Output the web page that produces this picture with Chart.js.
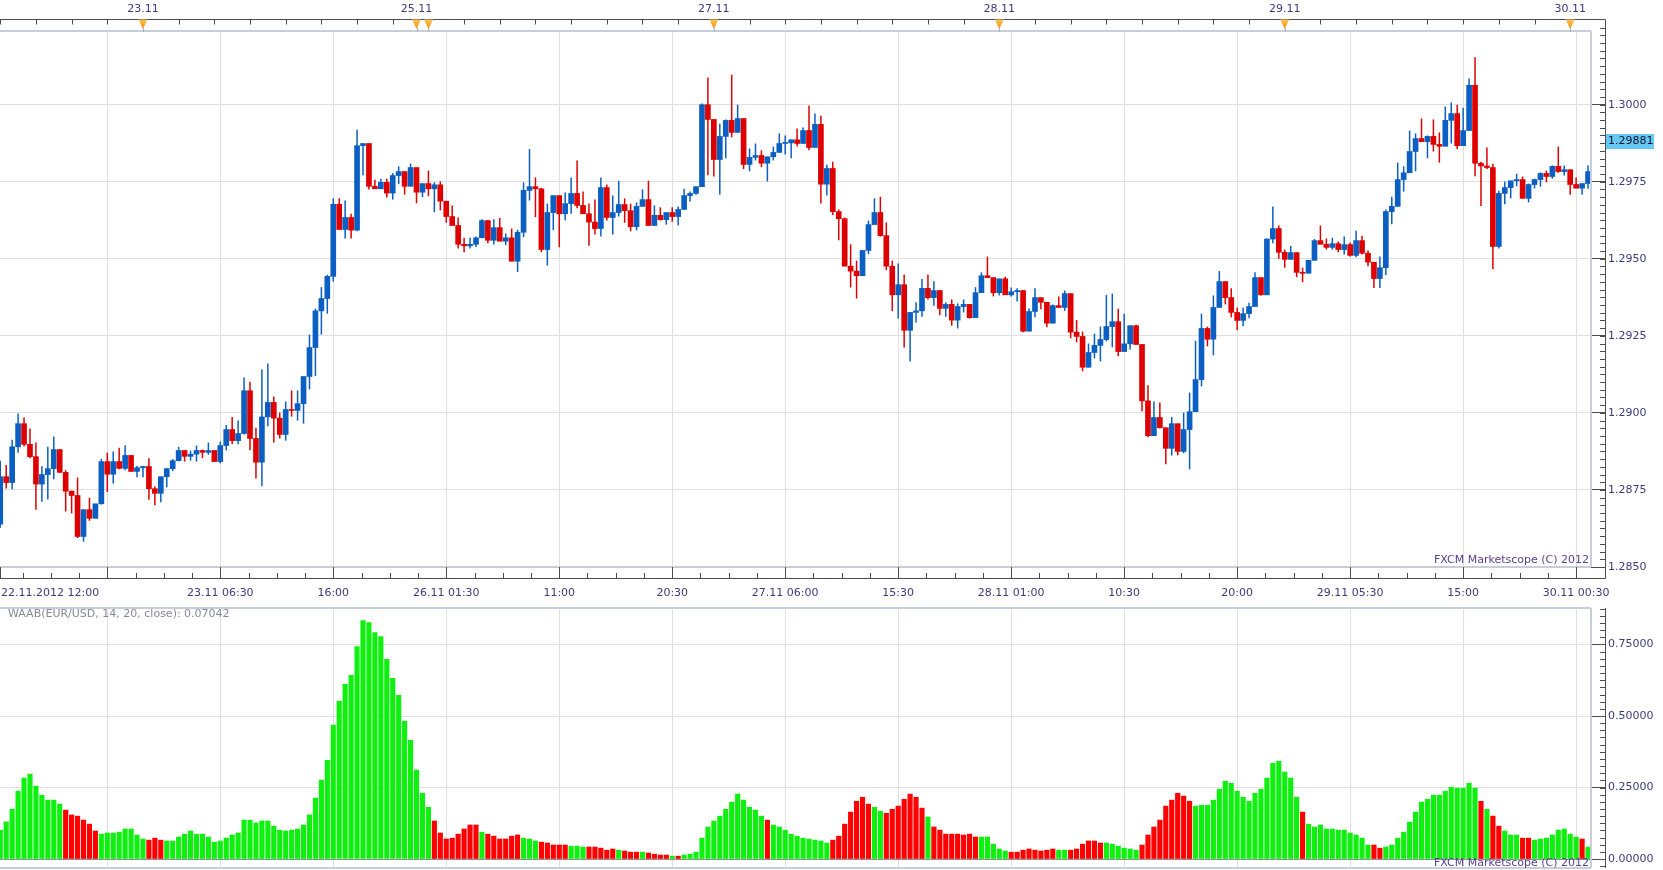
<!DOCTYPE html>
<html>
<head>
<meta charset="utf-8">
<title>EUR/USD 30m - WAAB</title>
<script src="https://cdn.jsdelivr.net/npm/chart.js@4.4.1/dist/chart.umd.min.js"></script>
<style>
  html, body { margin:0; padding:0; background:#fff; overflow:hidden; }
  #wrap { position:relative; width:1663px; height:870px; }
  #price { position:absolute; left:0; top:0; }
  #waab  { position:absolute; left:0; top:600px; }
</style>
</head>
<body>
<div id="wrap">
  <canvas id="price" width="1663" height="600"></canvas>
  <canvas id="waab" width="1663" height="270"></canvas>
</div>
<script>
// ── DATA ──────────────────────────────────────────────────
// EUR/USD 30 min candles, 22.11.2012 12:00 -> 30.11.2012 01:30 (open = previous close)
const firstOpen = 1.28639;
const closePrice = [
  1.28793,1.28774,1.28890,1.28965,1.28898,1.28858,1.28769,1.28800,1.28819,1.28881,1.28807,1.28746,
  1.28732,1.28599,1.28686,1.28658,1.28705,1.28842,1.28801,1.28842,1.28820,1.28862,1.28810,1.28822,
  1.28826,1.28754,1.28739,1.28793,1.28819,1.28845,1.28878,1.28859,1.28866,1.28878,1.28872,1.28878,
  1.28842,1.28894,1.28946,1.28910,1.28933,1.29072,1.28917,1.28840,1.28987,1.29034,1.28983,1.28930,
  1.29011,1.29008,1.29030,1.29118,1.29212,1.29331,1.29371,1.29443,1.29677,1.29595,1.29634,1.29593,
  1.29867,1.29874,1.29735,1.29727,1.29748,1.29713,1.29770,1.29783,1.29735,1.29796,1.29716,1.29744,
  1.29727,1.29740,1.29687,1.29637,1.29608,1.29547,1.29542,1.29547,1.29568,1.29624,1.29560,1.29601,
  1.29557,1.29568,1.29492,1.29586,1.29722,1.29734,1.29727,1.29530,1.29650,1.29705,1.29646,1.29679,
  1.29712,1.29673,1.29646,1.29619,1.29598,1.29731,1.29634,1.29650,1.29676,1.29656,1.29604,1.29670,
  1.29692,1.29608,1.29641,1.29627,1.29650,1.29637,1.29660,1.29705,1.29712,1.29734,1.30000,1.29952,
  1.29822,1.29897,1.29949,1.29910,1.29955,1.29806,1.29829,1.29835,1.29810,1.29831,1.29845,1.29874,
  1.29876,1.29886,1.29874,1.29916,1.29861,1.29936,1.29742,1.29793,1.29653,1.29630,1.29476,1.29460,
  1.29445,1.29527,1.29611,1.29650,1.29575,1.29476,1.29383,1.29416,1.29268,1.29326,1.29331,1.29404,
  1.29374,1.29397,1.29339,1.29352,1.29301,1.29345,1.29352,1.29309,1.29390,1.29445,1.29439,1.29390,
  1.29435,1.29383,1.29393,1.29397,1.29265,1.29329,1.29374,1.29359,1.29291,1.29348,1.29342,1.29387,
  1.29262,1.29248,1.29148,1.29196,1.29219,1.29238,1.29280,1.29296,1.29199,1.29224,1.29283,1.29222,
  1.29039,1.28926,1.28985,1.28952,1.28885,1.28965,1.28875,1.28946,1.29004,1.29108,1.29274,1.29239,
  1.29342,1.29426,1.29374,1.29326,1.29300,1.29322,1.29345,1.29439,1.29383,1.29564,1.29598,1.29521,
  1.29498,1.29520,1.29456,1.29453,1.29495,1.29559,1.29547,1.29537,1.29549,1.29530,1.29546,1.29511,
  1.29559,1.29518,1.29489,1.29436,1.29471,1.29653,1.29670,1.29757,1.29779,1.29848,1.29890,1.29880,
  1.29897,1.29871,1.29865,1.29949,1.29971,1.29867,1.29916,1.30063,1.29810,1.29801,1.29796,1.29540,
  1.29712,1.29731,1.29753,1.29757,1.29696,1.29741,1.29757,1.29777,1.29767,1.29800,1.29783,1.29789,
  1.29741,1.29729,1.29744,1.29783
];
const highPrice = [
  1.28845,1.28831,1.28913,1.28998,1.28985,1.28949,1.28904,1.28827,1.28890,1.28923,1.28881,1.28814,
  1.28748,1.28790,1.28686,1.28725,1.28705,1.28851,1.28871,1.28875,1.28887,1.28895,1.28862,1.28828,
  1.28828,1.28853,1.28761,1.28793,1.28821,1.28850,1.28890,1.28878,1.28878,1.28894,1.28881,1.28904,
  1.28878,1.28907,1.28961,1.28987,1.28975,1.29115,1.29101,1.28952,1.29141,1.29160,1.29053,1.29001,
  1.29037,1.29073,1.29073,1.29118,1.29254,1.29338,1.29408,1.29448,1.29696,1.29696,1.29689,1.29646,
  1.29919,1.29874,1.29874,1.29756,1.29760,1.29760,1.29778,1.29800,1.29783,1.29809,1.29796,1.29744,
  1.29786,1.29748,1.29751,1.29687,1.29673,1.29634,1.29568,1.29568,1.29572,1.29628,1.29624,1.29628,
  1.29632,1.29582,1.29598,1.29594,1.29748,1.29856,1.29764,1.29730,1.29679,1.29705,1.29705,1.29715,
  1.29764,1.29819,1.29718,1.29679,1.29692,1.29764,1.29741,1.29705,1.29753,1.29696,1.29679,1.29683,
  1.29725,1.29753,1.29673,1.29667,1.29650,1.29667,1.29670,1.29727,1.29718,1.29734,1.30004,1.30088,
  1.29952,1.29938,1.29952,1.30097,1.30000,1.29955,1.29858,1.29874,1.29852,1.29831,1.29864,1.29907,
  1.29900,1.29886,1.29923,1.29926,1.29997,1.29971,1.29964,1.29805,1.29815,1.29660,1.29634,1.29547,
  1.29494,1.29527,1.29624,1.29696,1.29701,1.29618,1.29494,1.29485,1.29449,1.29326,1.29359,1.29434,
  1.29449,1.29427,1.29397,1.29359,1.29368,1.29355,1.29368,1.29352,1.29408,1.29456,1.29507,1.29439,
  1.29435,1.29442,1.29407,1.29404,1.29397,1.29339,1.29404,1.29374,1.29359,1.29352,1.29378,1.29397,
  1.29387,1.29301,1.29264,1.29225,1.29257,1.29280,1.29383,1.29387,1.29338,1.29322,1.29283,1.29286,
  1.29222,1.29090,1.29037,1.29034,1.28952,1.28987,1.28965,1.29001,1.29066,1.29234,1.29322,1.29280,
  1.29381,1.29460,1.29426,1.29404,1.29342,1.29342,1.29357,1.29456,1.29439,1.29566,1.29670,1.29608,
  1.29530,1.29542,1.29520,1.29471,1.29495,1.29564,1.29608,1.29566,1.29568,1.29556,1.29572,1.29553,
  1.29591,1.29575,1.29527,1.29489,1.29507,1.29660,1.29701,1.29812,1.29800,1.29916,1.29907,1.29955,
  1.29900,1.29952,1.29910,1.29994,1.30007,1.30000,1.29990,1.30085,1.30154,1.29815,1.29861,1.29808,
  1.29721,1.29751,1.29753,1.29776,1.29767,1.29744,1.29760,1.29780,1.29786,1.29803,1.29864,1.29803,
  1.29789,1.29764,1.29744,1.29803
];
const lowPrice = [
  1.28627,1.28755,1.28752,1.28871,1.28891,1.28853,1.28686,1.28712,1.28720,1.28785,1.28806,1.28680,
  1.28674,1.28594,1.28582,1.28650,1.28658,1.28703,1.28743,1.28771,1.28817,1.28814,1.28810,1.28791,
  1.28791,1.28718,1.28700,1.28710,1.28759,1.28811,1.28843,1.28842,1.28845,1.28842,1.28853,1.28864,
  1.28842,1.28836,1.28879,1.28898,1.28898,1.28930,1.28879,1.28787,1.28762,1.28957,1.28904,1.28917,
  1.28910,1.28988,1.28975,1.28965,1.29076,1.29120,1.29254,1.29322,1.29426,1.29595,1.29566,1.29566,
  1.29589,1.29771,1.29725,1.29727,1.29727,1.29699,1.29692,1.29742,1.29708,1.29735,1.29680,1.29700,
  1.29703,1.29651,1.29657,1.29617,1.29608,1.29533,1.29521,1.29533,1.29538,1.29568,1.29550,1.29546,
  1.29557,1.29544,1.29492,1.29457,1.29570,1.29689,1.29635,1.29521,1.29478,1.29593,1.29537,1.29625,
  1.29646,1.29664,1.29646,1.29542,1.29579,1.29572,1.29624,1.29579,1.29637,1.29617,1.29589,1.29592,
  1.29670,1.29608,1.29608,1.29624,1.29611,1.29620,1.29608,1.29660,1.29686,1.29708,1.29734,1.29771,
  1.29767,1.29708,1.29826,1.29894,1.29910,1.29791,1.29784,1.29819,1.29797,1.29751,1.29819,1.29845,
  1.29838,1.29826,1.29864,1.29874,1.29852,1.29861,1.29679,1.29705,1.29642,1.29560,1.29476,1.29407,
  1.29371,1.29445,1.29515,1.29611,1.29572,1.29463,1.29330,1.29306,1.29212,1.29167,1.29293,1.29312,
  1.29368,1.29348,1.29317,1.29312,1.29283,1.29274,1.29326,1.29306,1.29309,1.29390,1.29439,1.29378,
  1.29381,1.29383,1.29378,1.29361,1.29262,1.29265,1.29310,1.29336,1.29278,1.29291,1.29342,1.29331,
  1.29242,1.29229,1.29135,1.29148,1.29177,1.29167,1.29232,1.29213,1.29184,1.29199,1.29206,1.29222,
  1.29005,1.28921,1.28926,1.28949,1.28833,1.28862,1.28862,1.28869,1.28817,1.29004,1.29086,1.29216,
  1.29187,1.29342,1.29352,1.29310,1.29268,1.29281,1.29307,1.29345,1.29381,1.29383,1.29550,1.29500,
  1.29471,1.29498,1.29440,1.29424,1.29453,1.29495,1.29547,1.29530,1.29530,1.29521,1.29514,1.29507,
  1.29505,1.29514,1.29476,1.29405,1.29405,1.29447,1.29612,1.29670,1.29718,1.29779,1.29784,1.29880,
  1.29826,1.29848,1.29812,1.29865,1.29874,1.29855,1.29867,1.29916,1.29768,1.29671,1.29791,1.29466,
  1.29533,1.29677,1.29696,1.29735,1.29696,1.29683,1.29728,1.29734,1.29748,1.29760,1.29779,1.29770,
  1.29708,1.29729,1.29708,1.29727
];

// WAAB(EUR/USD, 14, 20, close) histogram
const waabValue = [
  0.101,0.130,0.174,0.237,0.283,0.297,0.255,0.223,0.206,0.206,0.192,0.171,
  0.154,0.150,0.136,0.122,0.098,0.087,0.091,0.091,0.094,0.105,0.105,0.084,
  0.070,0.066,0.073,0.066,0.063,0.063,0.077,0.087,0.098,0.087,0.087,0.077,
  0.059,0.063,0.073,0.084,0.091,0.136,0.136,0.126,0.133,0.133,0.115,0.101,
  0.098,0.101,0.105,0.119,0.154,0.213,0.276,0.345,0.468,0.551,0.611,0.642,
  0.743,0.834,0.827,0.792,0.778,0.698,0.632,0.572,0.481,0.415,0.311,0.230,
  0.181,0.133,0.091,0.070,0.073,0.087,0.105,0.119,0.119,0.094,0.087,0.080,
  0.070,0.070,0.080,0.084,0.073,0.070,0.063,0.059,0.056,0.049,0.049,0.049,
  0.045,0.045,0.042,0.042,0.042,0.038,0.031,0.035,0.031,0.028,0.024,0.024,
  0.024,0.021,0.017,0.014,0.014,0.010,0.010,0.014,0.017,0.024,0.073,0.112,
  0.133,0.150,0.174,0.199,0.227,0.206,0.181,0.171,0.150,0.136,0.119,0.112,
  0.101,0.087,0.080,0.073,0.070,0.066,0.063,0.056,0.066,0.080,0.122,0.164,
  0.202,0.216,0.192,0.181,0.167,0.160,0.174,0.185,0.209,0.227,0.216,0.178,
  0.147,0.112,0.101,0.087,0.087,0.087,0.084,0.087,0.077,0.077,0.077,0.052,
  0.035,0.028,0.024,0.024,0.031,0.035,0.031,0.028,0.031,0.035,0.031,0.031,
  0.031,0.035,0.052,0.063,0.063,0.056,0.056,0.052,0.045,0.038,0.035,0.031,
  0.049,0.084,0.112,0.136,0.185,0.206,0.230,0.220,0.202,0.185,0.188,0.188,
  0.206,0.244,0.272,0.265,0.237,0.216,0.202,0.230,0.244,0.283,0.335,0.342,
  0.304,0.283,0.216,0.164,0.122,0.112,0.119,0.105,0.105,0.101,0.101,0.091,
  0.084,0.073,0.049,0.049,0.038,0.042,0.049,0.073,0.094,0.129,0.164,0.199,
  0.209,0.223,0.223,0.237,0.251,0.248,0.248,0.265,0.248,0.202,0.174,0.150,
  0.115,0.098,0.084,0.084,0.073,0.073,0.066,0.070,0.073,0.084,0.101,0.105,
  0.087,0.077,0.070,0.042
];
// colour runs of the histogram: g = rising, r = falling
const waabRuns = [
  ['g',11],['r',6],['g',8],['r',3],['g',45],['r',8],['g',1],['r',6],['g',3],['r',5],
  ['g',3],['r',5],['g',1],['r',3],['g',1],['r',4],['g',1],['r',1],['g',14],['r',1],
  ['g',10],['r',7],['g',2],['r',7],['g',1],['r',8],['g',5],['r',8],['g',2],['r',6],
  ['g',6],['r',9],['g',18],['r',1],['g',11],['r',2],['g',16],['r',1],['g',1],['r',2],
  ['g',3],['r',2],['g',8],['r',1],['g',1]
];

const startLabel = '22.11.2012 12:00';
const gridIdx   = [18, 37, 56, 75, 94, 113, 132, 151, 170, 189, 208, 227, 246, 265];
const gridLabel = ['', '23.11 06:30', '16:00', '26.11 01:30', '11:00', '20:30', '27.11 06:00',
                   '15:30', '28.11 01:00', '10:30', '20:00', '29.11 05:30', '15:00', '30.11 00:30'];
const dayIdx   = [24, 70, 72, 120, 168, 216, 264];
const dayLabel = ['23.11', '25.11', '', '27.11', '28.11', '29.11', '30.11'];
const priceTicks = [1.2850, 1.2875, 1.2900, 1.2925, 1.2950, 1.2975, 1.3000];
const waabTicks  = [0, 0.25, 0.5, 0.75];
const lastQuote  = 1.29881;
const legendText = 'WAAB(EUR/USD, 14, 20, close): 0.07042';
const watermark  = 'FXCM Marketscope (C) 2012';

// ── LOOK ──────────────────────────────────────────────────
const UP = '#0b5fc3', DOWN = '#de0000';
const W_UP = '#10f010', W_DOWN = '#ff0000';
const GRID = '#e0e0e0', AXIS = '#4d4d4d', TXT = '#3b3b7b', EDGE = '#c6cedb';
const FONT = "'DejaVu Sans', Verdana, sans-serif";
const AXIS_X = 1605.5;
const X_MIN = -0.042, X_MAX = 267.5;

Chart.defaults.font.family = FONT;
Chart.defaults.font.size = 11;
Chart.defaults.color = TXT;

const idx = closePrice.map((_, i) => i);
const openPrice = [firstOpen, ...closePrice.slice(0, -1)];
const candleColor = idx.map(i => closePrice[i] >= openPrice[i] ? UP : DOWN);
const waabColor = waabRuns.flatMap(([c, n]) => Array(n).fill(c === 'g' ? W_UP : W_DOWN));

function xAxis(h) {
  return {
    type: 'linear', min: X_MIN, max: X_MAX, offset: false,
    afterBuildTicks: s => { s.ticks = gridIdx.map(v => ({ value: v })); },
    grid: { color: GRID, offset: false, drawTicks: false },
    border: { display: false },
    ticks: { display: false },
    afterFit: s => { s.height = h; s.paddingLeft = 0; s.paddingRight = 0; }
  };
}
function yAxis(min, max, ticks, fmt, gridColor) {
  return {
    position: 'right', min, max, beginAtZero: false,
    afterBuildTicks: s => { s.ticks = ticks.map(v => ({ value: v })); },
    grid: { color: gridColor, tickColor: AXIS, tickLength: 14 },
    border: { display: false },
    ticks: { callback: fmt, color: TXT, padding: 3, autoSkip: false },
    // labels at the very edge must not shrink the plot area
    afterFit: s => { s.width = 72; s.paddingTop = 0; s.paddingBottom = 0; }
  };
}

function line(ctx, x1, y1, x2, y2) { ctx.moveTo(x1, y1); ctx.lineTo(x2, y2); }
const crisp = (s, v) => Math.round(s.getPixelForValue(v)) + 0.5;

function frame(ctx, a) {
  ctx.strokeStyle = EDGE; ctx.lineWidth = 2;
  ctx.beginPath();
  line(ctx, 0, a.top, a.right, a.top);
  line(ctx, a.right, a.top, a.right, a.bottom);
  line(ctx, 0, a.bottom, a.right, a.bottom);
  ctx.stroke();
}

// ── PRICE PANEL DECOR ─────────────────────────────────────
const pricePanel = {
  id: 'pricePanel',
  afterDraw(chart) {
    const { ctx, chartArea: a, scales: { x, y } } = chart;
    ctx.save();
    frame(ctx, a);

    // rulers + right axis line
    ctx.strokeStyle = AXIS; ctx.lineWidth = 1;
    ctx.beginPath();
    line(ctx, 0, 19.5, AXIS_X, 19.5);
    line(ctx, AXIS_X, 19.5, AXIS_X, 578.5);
    line(ctx, 0, 578.5, AXIS_X, 578.5);
    for (let i = 0; i <= X_MAX; i += 6) { const p = crisp(x, i); line(ctx, p, 19.5, p, 24.5); }
    [0, ...gridIdx].forEach(v => { const p = crisp(x, v); line(ctx, p, a.bottom, p, 578.5); });
    for (let k = -3; k < 4 * gridIdx.length; k++) {
      if (k % 4 === 0) continue;
      const v = gridIdx[0] + k * 4.75;
      if (v < 0 || v > X_MAX) continue;
      const p = crisp(x, v); line(ctx, p, 573, p, 578.5);
    }
    for (let k = 0; k <= 80; k++) {
      const q = y.getPixelForValue(1.2850 + k * 0.00025);
      if (q < 21) break;
      const r = Math.round(q) + 0.5; line(ctx, 1600, r, AXIS_X, r);
    }
    ctx.stroke();

    // day markers
    ctx.font = `11px ${FONT}`; ctx.textBaseline = 'middle'; ctx.textAlign = 'center';
    dayIdx.forEach((v, k) => {
      const p = x.getPixelForValue(v);
      const g = ctx.createLinearGradient(0, 19, 0, 29);
      g.addColorStop(0, '#ffc860'); g.addColorStop(1, '#f08c00');
      ctx.fillStyle = g;
      ctx.beginPath(); ctx.moveTo(p - 4.5, 19.5); ctx.lineTo(p + 4.5, 19.5); ctx.lineTo(p, 29); ctx.closePath(); ctx.fill();
      ctx.strokeStyle = '#a8b3c4'; ctx.lineWidth = 1;
      ctx.beginPath(); line(ctx, Math.round(p) + 0.5, 28, Math.round(p) + 0.5, 32); ctx.stroke();
      if (dayLabel[k]) { ctx.fillStyle = TXT; ctx.fillText(dayLabel[k], p, 9); }
    });

    // time labels
    ctx.fillStyle = TXT;
    ctx.textAlign = 'left'; ctx.fillText(startLabel, 1, 593);
    ctx.textAlign = 'center';
    gridIdx.forEach((v, k) => { if (gridLabel[k]) ctx.fillText(gridLabel[k], x.getPixelForValue(v), 593); });

    // last quote tag
    const ty = Math.round(y.getPixelForValue(lastQuote));
    ctx.fillStyle = '#66c9f2'; ctx.fillRect(1606, ty - 7, 48, 15);
    ctx.fillStyle = '#101030'; ctx.textAlign = 'left';
    ctx.fillText(lastQuote.toFixed(5), 1608, ty + 0.5);

    ctx.fillStyle = '#5a3f8f'; ctx.textAlign = 'right'; ctx.textBaseline = 'alphabetic';
    ctx.fillText(watermark, a.right - 2, a.bottom - 4);
    ctx.restore();
  }
};

// ── WAAB PANEL DECOR ──────────────────────────────────────
const waabPanel = {
  id: 'waabPanel',
  afterDraw(chart) {
    const { ctx, chartArea: a, scales: { y } } = chart;
    ctx.save();
    frame(ctx, a);
    ctx.strokeStyle = AXIS; ctx.lineWidth = 1;
    ctx.beginPath();
    line(ctx, AXIS_X, a.top, AXIS_X, a.bottom);
    for (let k = -1; k <= 40; k++) {
      const q = y.getPixelForValue(k * 0.025);
      if (q < a.top) break;
      const r = Math.round(q) + 0.5; line(ctx, 1600, r, AXIS_X, r);
    }
    ctx.stroke();

    ctx.font = `11px ${FONT}`; ctx.fillStyle = '#8a8a8a';
    ctx.textAlign = 'left'; ctx.textBaseline = 'middle';
    ctx.fillText(legendText, 8, a.top + 6.5);
    ctx.fillStyle = '#5a3f8f'; ctx.textAlign = 'right'; ctx.textBaseline = 'alphabetic';
    ctx.fillText(watermark, a.right - 2, a.bottom - 2);
    ctx.restore();
  }
};

const COMMON = {
  responsive: false, animation: false, events: [], devicePixelRatio: 1,
  plugins: { legend: { display: false }, tooltip: { enabled: false } }
};

// ── CANDLES ───────────────────────────────────────────────
new Chart(document.getElementById('price'), {
  type: 'bar',
  data: {
    datasets: [
      { label: 'body', order: 1, grouped: false, barThickness: 5, minBarLength: 1,
        data: idx.map(i => ({ x: i, y: [openPrice[i], closePrice[i]] })),
        backgroundColor: candleColor, borderWidth: 0 },
      { label: 'wick', order: 2, grouped: false, barThickness: 1.5, inflateAmount: 0,
        data: idx.map(i => ({ x: i, y: [
          Math.min(lowPrice[i], openPrice[i], closePrice[i]),
          Math.max(highPrice[i], openPrice[i], closePrice[i]) ] })),
        backgroundColor: candleColor, borderWidth: 0 }
    ]
  },
  options: {
    ...COMMON,
    layout: { padding: { top: 31, left: 0, right: 0, bottom: 0 } },
    scales: {
      x: xAxis(33),
      y: yAxis(1.2850, 1.30239, priceTicks, v => v.toFixed(4), GRID)
    }
  },
  plugins: [pricePanel]
});

// ── WAAB HISTOGRAM ────────────────────────────────────────
new Chart(document.getElementById('waab'), {
  type: 'bar',
  data: {
    datasets: [{
      label: 'WAAB', grouped: false, barThickness: 4.5,
      data: idx.map(i => ({ x: i, y: waabValue[i] })),
      backgroundColor: waabColor, borderWidth: 0
    }]
  },
  options: {
    ...COMMON,
    layout: { padding: { top: 8, left: 0, right: 0, bottom: 0 } },
    scales: {
      x: xAxis(2),
      y: yAxis(-0.0314, 0.8776, waabTicks, v => v.toFixed(5),
               c => (c.tick && c.tick.value === 0) ? '#8f8f8f' : GRID)
    }
  },
  plugins: [waabPanel]
});
</script>
</body>
</html>
